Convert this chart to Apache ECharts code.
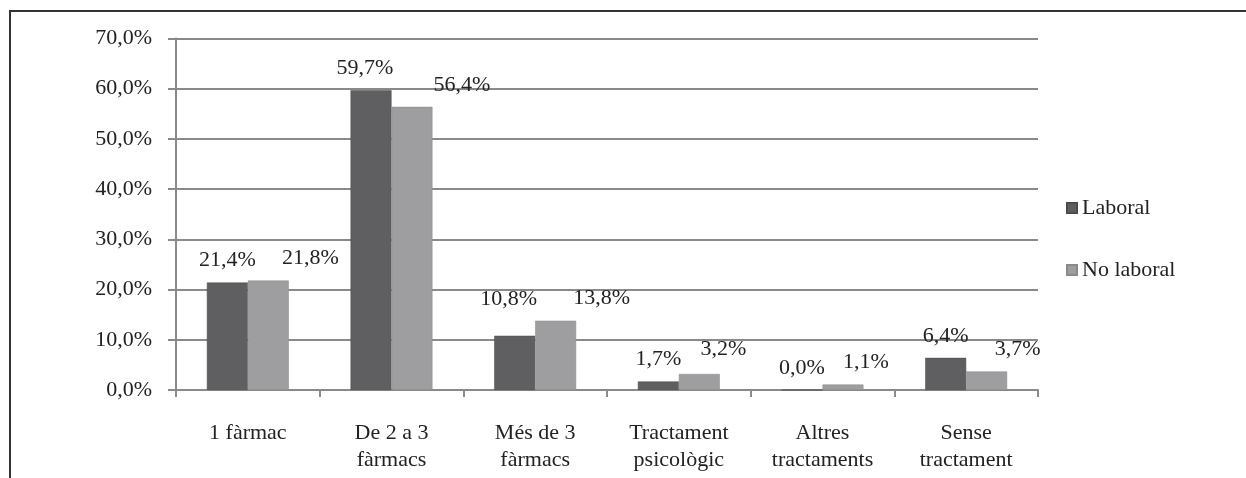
<!DOCTYPE html>
<html>
<head>
<meta charset="utf-8">
<script src="https://cdn.jsdelivr.net/npm/echarts@6/dist/echarts.min.js"></script>
<style>
  html, body { margin: 0; padding: 0; background: #fff; }
  #chart { width: 1246px; height: 478px; }
</style>
</head>
<body>
<div id="chart"></div>
<script>
// Tipus de tractament
const categories = [
  '1 fàrmac',
  'De 2 a 3\nfàrmacs',
  'Més de 3\nfàrmacs',
  'Tractament\npsicològic',
  'Altres\ntractaments',
  'Sense\ntractament'
];
const seriesNames = ['Laboral', 'No laboral'];
const laboral = [21.4, 59.7, 10.8, 1.7, 0.0, 6.4];
const noLaboral = [21.8, 56.4, 13.8, 3.2, 1.1, 3.7];
const yTicks = [0, 10, 20, 30, 40, 50, 60, 70];

const fmt = v => v.toFixed(1).replace('.', ',') + '%';
const FONT = '"Liberation Serif", "DejaVu Serif", serif';
const FONT_SIZE = 22;

// label nudges so value labels sit beside one another without overlapping
const laboralLabelShift = [[0, 0], [-6, 0], [-6, -15], [0, 0], [0, 0], [0, 0]];
const noLaboralLabelShift = [[42, 0], [50, 0], [46, 0], [24, -3], [23, 0], [31, 0]];

function buildData(values, shifts) {
  return values.map((v, i) => ({
    value: v,
    label: { offset: shifts[i] }
  }));
}

const chart = echarts.init(document.getElementById('chart'), null, { renderer: 'canvas' });

const labelStyle = {
  show: true,
  position: 'top',
  distance: 11,
  fontFamily: FONT,
  fontSize: FONT_SIZE,
  color: '#222',
  formatter: p => fmt(p.value)
};

chart.setOption({
  animation: false,
  backgroundColor: '#fff',
  textStyle: { fontFamily: FONT },
  graphic: [
    {
      type: 'polyline',
      shape: { points: [[10, 480], [10, 11], [1250, 11]] },
      style: { stroke: '#333', lineWidth: 2, fill: null },
      silent: true
    }
  ],
  grid: { left: 176, right: 208, top: 38.5, bottom: 88, containLabel: false },
  legend: {
    orient: 'vertical',
    left: 1061,
    top: 192,
    itemGap: 40,
    itemWidth: 10,
    itemHeight: 10,
    icon: 'rect',
    textStyle: { fontFamily: FONT, fontSize: FONT_SIZE, color: '#222', padding: [0, 0, 0, 0] },
    data: seriesNames
  },
  xAxis: {
    type: 'category',
    data: categories,
    axisLine: { lineStyle: { color: '#8a8a8a', width: 2 } },
    axisTick: { show: true, alignWithLabel: false, length: 7, lineStyle: { color: '#8a8a8a', width: 2 } },
    axisLabel: {
      interval: 0,
      margin: 30,
      fontFamily: FONT,
      fontSize: FONT_SIZE,
      lineHeight: 27,
      color: '#222'
    },
    splitLine: { show: false }
  },
  yAxis: {
    type: 'value',
    min: 0,
    max: 70,
    interval: 10,
    axisLine: { show: true, lineStyle: { color: '#8a8a8a', width: 2 } },
    axisTick: { show: true, inside: false, length: 8, lineStyle: { color: '#8a8a8a', width: 2 } },
    axisLabel: {
      margin: 24,
      fontFamily: FONT,
      fontSize: FONT_SIZE,
      color: '#222',
      customValues: yTicks,
      formatter: v => fmt(v)
    },
    splitLine: { show: true, lineStyle: { color: '#8a8a8a', width: 2 } }
  },
  series: [
    {
      name: seriesNames[0],
      type: 'bar',
      data: buildData(laboral, laboralLabelShift),
      barGap: '0%',
      barCategoryGap: '43%',
      itemStyle: { color: '#5f5f61', borderColor: '#4a4a4c', borderWidth: 0.5 },
      label: labelStyle
    },
    {
      name: seriesNames[1],
      type: 'bar',
      data: buildData(noLaboral, noLaboralLabelShift),
      barGap: '0%',
      barCategoryGap: '43%',
      itemStyle: { color: '#9e9ea0', borderColor: '#8a8a8c', borderWidth: 0.5 },
      label: labelStyle
    }
  ]
});
</script>
</body>
</html>
